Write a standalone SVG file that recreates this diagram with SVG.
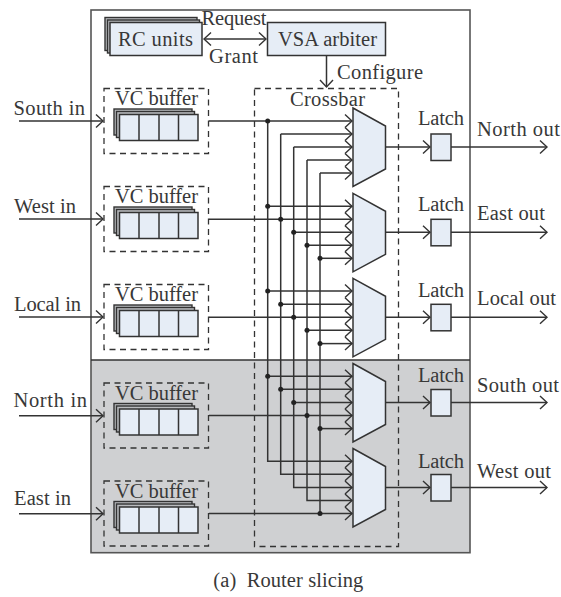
<svg xmlns="http://www.w3.org/2000/svg" width="561" height="597" viewBox="0 0 561 597">
<style>
text{font-family:"Liberation Serif","Times New Roman",serif;font-size:20.5px;fill:#383838}
.l{fill:none;stroke:#333;stroke-width:1.5}
.b{fill:#e6edf6;stroke:#333;stroke-width:1.5}
.g{fill:#b9bbbe;stroke:#333;stroke-width:1.4}
.d{fill:none;stroke:#333;stroke-width:1.3;stroke-dasharray:6 4.5}
.dot{fill:#222;stroke:none}
</style>
<defs>
<marker id="a" markerUnits="userSpaceOnUse" markerWidth="12" markerHeight="16" refX="9" refY="8" orient="auto-start-reverse"><path d="M2 1.5L9 8L2 14.500" fill="none" stroke="#333" stroke-width="1.4"/></marker>
<g id="vcb">
<rect class="d" x="104" y="88.500" width="104.500" height="65"/>
<rect class="g" x="114" y="109" width="78" height="26"/>
<rect class="g" x="116.500" y="111.500" width="78" height="26"/>
<rect class="b" x="119.500" y="114.500" width="78.500" height="26"/>
<path class="l" d="M139 114.500V140.500M159 114.500V140.500M178.500 114.500V140.500"/>
<text x="115" y="105" textLength="83" lengthAdjust="spacing">VC buffer</text>
</g>
<path id="mux" class="b" d="M353 108L385.500 126V169L353 186.500Z"/>
<rect id="latch" class="b" x="431" y="134" width="20" height="26.500"/>
</defs>
<rect x="91" y="360" width="379" height="192.700" fill="#cfd0d2"/>
<rect x="91" y="10" width="379" height="542.700" fill="none" stroke="#555" stroke-width="1.6"/>
<path d="M91 360H470" stroke="#333" stroke-width="1.6"/>
<g id="rc-units">
<rect class="g" x="105" y="17.500" width="92" height="33"/>
<rect class="g" x="107.500" y="20" width="92" height="33"/>
<rect class="b" x="110" y="22.500" width="92" height="33"/>
<text x="118" y="46" textLength="75" lengthAdjust="spacing">RC units</text>
</g>
<g id="vsa-arbiter">
<rect class="b" x="267.500" y="22.500" width="118" height="33"/>
<text x="278" y="46" textLength="99" lengthAdjust="spacing">VSA arbiter</text>
</g>
<g id="crossbar">
<rect class="d" x="254.500" y="88.500" width="144" height="458"/>
<text x="290" y="106" textLength="75" lengthAdjust="spacing">Crossbar</text>
</g>
<g id="connectors">
<path class="l" d="M204 39H266" marker-start="url(#a)" marker-end="url(#a)"/>
<path class="l" d="M326.500 55.500V87" marker-end="url(#a)"/>
<path class="l" d="M19 121H103" marker-end="url(#a)"/>
<path class="l" d="M19 219H103" marker-end="url(#a)"/>
<path class="l" d="M19 317H103" marker-end="url(#a)"/>
<path class="l" d="M19 415.700H103" marker-end="url(#a)"/>
<path class="l" d="M19 513.700H103" marker-end="url(#a)"/>
<path class="l" d="M209 121H352" marker-end="url(#a)"/>
<path class="l" d="M280.700 134H352" marker-end="url(#a)"/>
<path class="l" d="M293.700 147H352" marker-end="url(#a)"/>
<path class="l" d="M307 160H352" marker-end="url(#a)"/>
<path class="l" d="M320 173H352" marker-end="url(#a)"/>
<path class="l" d="M267.700 121V461.300H352" marker-end="url(#a)"/>
<path class="l" d="M280.700 134V474.300H352" marker-end="url(#a)"/>
<path class="l" d="M293.700 147V487.500H352" marker-end="url(#a)"/>
<path class="l" d="M307 160V500.500H352" marker-end="url(#a)"/>
<path class="l" d="M320 173V513.600"/>
<path class="l" d="M209 513.600H352" marker-end="url(#a)"/>
<path class="l" d="M267.700 206.300H352" marker-end="url(#a)"/>
<path class="l" d="M209 219.300H352" marker-end="url(#a)"/>
<path class="l" d="M293.700 232.300H352" marker-end="url(#a)"/>
<path class="l" d="M307 245.300H352" marker-end="url(#a)"/>
<path class="l" d="M320 258.300H352" marker-end="url(#a)"/>
<path class="l" d="M267.700 291H352" marker-end="url(#a)"/>
<path class="l" d="M280.700 304.300H352" marker-end="url(#a)"/>
<path class="l" d="M209 317.300H352" marker-end="url(#a)"/>
<path class="l" d="M307 330.300H352" marker-end="url(#a)"/>
<path class="l" d="M320 343.600H352" marker-end="url(#a)"/>
<path class="l" d="M267.700 376.300H352" marker-end="url(#a)"/>
<path class="l" d="M280.700 389.300H352" marker-end="url(#a)"/>
<path class="l" d="M293.700 402.600H352" marker-end="url(#a)"/>
<path class="l" d="M209 415.600H352" marker-end="url(#a)"/>
<path class="l" d="M320 428.600H352" marker-end="url(#a)"/>
<path class="l" d="M385.500 147H430" marker-end="url(#a)"/>
<path class="l" d="M385.500 232.300H430" marker-end="url(#a)"/>
<path class="l" d="M385.500 317.300H430" marker-end="url(#a)"/>
<path class="l" d="M385.500 402.600H430" marker-end="url(#a)"/>
<path class="l" d="M385.500 487.600H430" marker-end="url(#a)"/>
<path class="l" d="M451 147H547" marker-end="url(#a)"/>
<path class="l" d="M451 232.300H547" marker-end="url(#a)"/>
<path class="l" d="M451 317.300H547" marker-end="url(#a)"/>
<path class="l" d="M451 402.600H547" marker-end="url(#a)"/>
<path class="l" d="M451 487.600H547" marker-end="url(#a)"/>
<g class="dot">
<circle cx="267.700" cy="121" r="2.500"/>
<circle cx="267.700" cy="206.300" r="2.500"/><circle cx="280.700" cy="219.300" r="2.500"/><circle cx="293.700" cy="232.300" r="2.500"/><circle cx="307" cy="245.300" r="2.500"/><circle cx="320" cy="258.300" r="2.500"/>
<circle cx="267.700" cy="291" r="2.500"/><circle cx="280.700" cy="304.300" r="2.500"/><circle cx="293.700" cy="317.300" r="2.500"/><circle cx="307" cy="330.300" r="2.500"/><circle cx="320" cy="343.600" r="2.500"/>
<circle cx="267.700" cy="376.300" r="2.500"/><circle cx="280.700" cy="389.300" r="2.500"/><circle cx="293.700" cy="402.600" r="2.500"/><circle cx="307" cy="415.600" r="2.500"/><circle cx="320" cy="428.600" r="2.500"/>
<circle cx="320" cy="513.600" r="2.500"/>
</g>
</g>
<g id="vc-buffer-1"><use href="#vcb"/></g>
<g id="vc-buffer-2"><use href="#vcb" y="98"/></g>
<g id="vc-buffer-3"><use href="#vcb" y="196"/></g>
<g id="vc-buffer-4"><use href="#vcb" y="294.500"/></g>
<g id="vc-buffer-5"><use href="#vcb" y="392.500"/></g>
<g id="mux-1"><use href="#mux"/></g>
<g id="mux-2"><use href="#mux" y="85.300"/></g>
<g id="mux-3"><use href="#mux" y="170.300"/></g>
<g id="mux-4"><use href="#mux" y="255.500"/></g>
<g id="mux-5"><use href="#mux" y="340.500"/></g>
<g id="latch-1"><use href="#latch"/><text x="418" y="125" textLength="46" lengthAdjust="spacing">Latch</text></g>
<g id="latch-2"><use href="#latch" y="85.300"/><text x="418" y="210.700" textLength="46" lengthAdjust="spacing">Latch</text></g>
<g id="latch-3"><use href="#latch" y="170.300"/><text x="418" y="296.700" textLength="46" lengthAdjust="spacing">Latch</text></g>
<g id="latch-4"><use href="#latch" y="255.500"/><text x="418" y="381.700" textLength="46" lengthAdjust="spacing">Latch</text></g>
<g id="latch-5"><use href="#latch" y="340.500"/><text x="418" y="467.700" textLength="46" lengthAdjust="spacing">Latch</text></g>
<g id="labels">
<text x="201.500" y="25.300" textLength="65" lengthAdjust="spacing">Request</text>
<text x="209" y="63.300" textLength="49" lengthAdjust="spacing">Grant</text>
<text x="337" y="79" textLength="86" lengthAdjust="spacing">Configure</text>
<text x="13.500" y="115" textLength="71.500" lengthAdjust="spacing">South in</text>
<text x="14" y="213" textLength="62" lengthAdjust="spacing">West in</text>
<text x="14" y="311" textLength="67" lengthAdjust="spacing">Local in</text>
<text x="13.500" y="406.700" textLength="73.500" lengthAdjust="spacing">North in</text>
<text x="14" y="505" textLength="57" lengthAdjust="spacing">East in</text>
<text x="477" y="135.700" textLength="83" lengthAdjust="spacing">North out</text>
<text x="477" y="220" textLength="68" lengthAdjust="spacing">East out</text>
<text x="477" y="305" textLength="79" lengthAdjust="spacing">Local out</text>
<text x="477" y="391.700" textLength="82" lengthAdjust="spacing">South out</text>
<text x="477" y="477.700" textLength="74" lengthAdjust="spacing">West out</text>
<text x="213.300" y="586.700" textLength="150" lengthAdjust="spacing" xml:space="preserve">(a)  Router slicing</text>
</g>
</svg>
